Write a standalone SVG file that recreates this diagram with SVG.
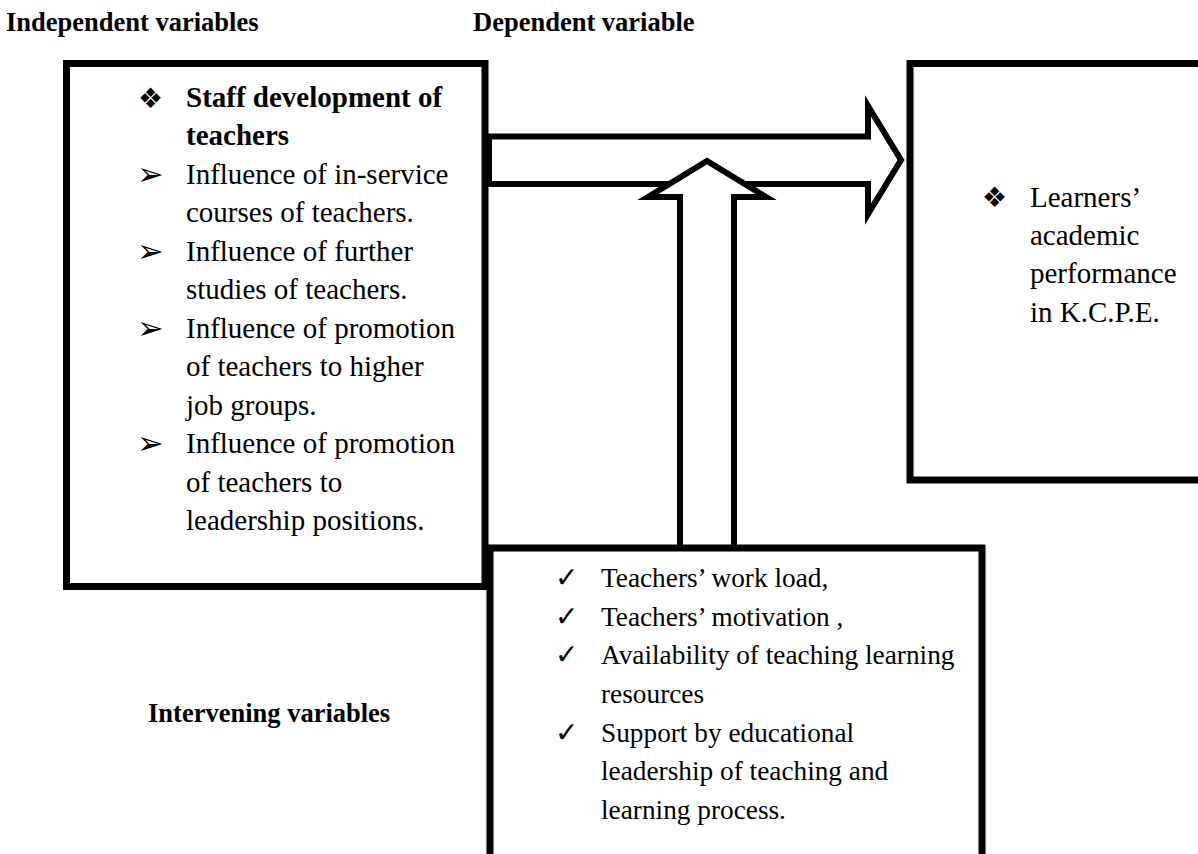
<svg xmlns="http://www.w3.org/2000/svg" width="1198" height="854" viewBox="0 0 1198 854">
<style>
.box{fill:#fff;stroke:#000;stroke-width:7}
.arr{fill:#fff;stroke:#000;stroke-width:6;stroke-linejoin:miter;stroke-miterlimit:10}
text{font-family:'Liberation Serif','DejaVu Serif','Times New Roman',serif;fill:#000}
.h{font-weight:bold;font-size:26.5px}
.t{font-size:29px}
.tb{font-size:29px;font-weight:bold}
.ts{font-size:27.3px}
.sym{font-family:'DejaVu Sans',sans-serif}
.ar{font-family:'DejaVu Sans',sans-serif;font-size:32px}
</style>
<rect width="1198" height="854" fill="#fff"/>
<g id="headers">
<text class="h" x="6" y="31">Independent variables</text>
<text class="h" x="473" y="31">Dependent variable</text>
<text class="h" x="148" y="722">Intervening variables</text>
</g>
<g id="independent">
<rect class="box" x="66.5" y="63.5" width="418.5" height="523"/>
<text class="sym" x="138" y="108" font-size="28">❖</text>
<text class="tb" x="186" y="107">Staff development of</text>
<text class="tb" x="186" y="145">teachers</text>
<text class="ar" x="137" y="185">➢</text>
<text class="t" x="186" y="184">Influence of in-service</text>
<text class="t" x="186" y="222">courses of teachers.</text>
<text class="ar" x="137" y="262">➢</text>
<text class="t" x="186" y="261">Influence of further</text>
<text class="t" x="186" y="299">studies of teachers.</text>
<text class="ar" x="137" y="339">➢</text>
<text class="t" x="186" y="338">Influence of promotion</text>
<text class="t" x="186" y="376">of teachers to higher</text>
<text class="t" x="186" y="415">job groups.</text>
<text class="ar" x="137" y="454">➢</text>
<text class="t" x="186" y="453">Influence of promotion</text>
<text class="t" x="186" y="492">of teachers to</text>
<text class="t" x="186" y="530">leadership positions.</text>
</g>
<g id="dependent">
<rect class="box" x="910" y="63.5" width="400" height="416.5"/>
<text class="sym" x="982" y="207" font-size="28">❖</text>
<text class="t" x="1030" y="207">Learners’</text>
<text class="t" x="1030" y="245">academic</text>
<text class="t" x="1030" y="283">performance</text>
<text class="t" x="1030" y="322">in K.C.P.E.</text>
</g>
<g id="connectors">
<polygon class="arr" points="489,136.5 868,136.5 868,106 901,160 868,214 868,184 489,184"/>
<polygon class="arr" points="680,548 680,197 648,197 707,161 766,197 734,197 734,548"/>
</g>
<g id="intervening">
<rect class="box" x="490" y="548" width="492" height="400"/>
<text class="sym" x="555" y="587" font-size="28">✓</text>
<text class="ts" x="601" y="587">Teachers’ work load,</text>
<text class="sym" x="555" y="626" font-size="28">✓</text>
<text class="ts" x="601" y="626">Teachers’ motivation ,</text>
<text class="sym" x="555" y="664" font-size="28">✓</text>
<text class="ts" x="601" y="664">Availability of teaching learning</text>
<text class="ts" x="601" y="703">resources</text>
<text class="sym" x="555" y="742" font-size="28">✓</text>
<text class="ts" x="601" y="742">Support by educational</text>
<text class="ts" x="601" y="780">leadership of teaching and</text>
<text class="ts" x="601" y="819">learning process.</text>
</g>
</svg>
